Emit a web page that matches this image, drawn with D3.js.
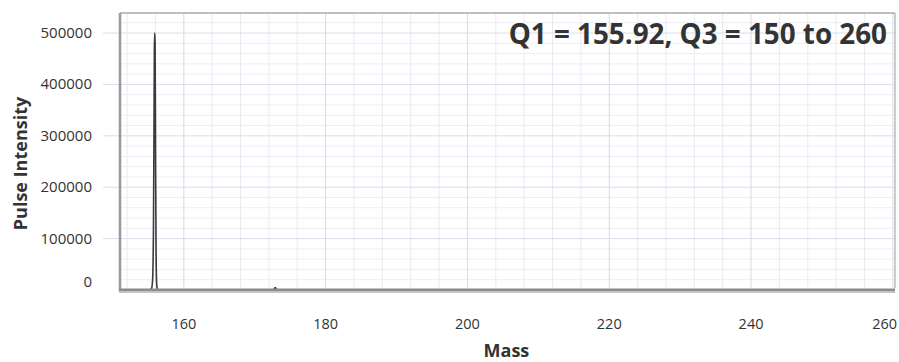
<!DOCTYPE html>
<html>
<head>
<meta charset="utf-8">
<script src="https://cdn.jsdelivr.net/npm/d3@7"></script>
<style>
  body { margin: 0; background: #fff; }
  text { font-family: "Open Sans", "Noto Sans", sans-serif; fill: #333; }
</style>
</head>
<body>
<div id="main"></div>
<script>
// spectrum trace
const mass      = [151, 155.2, 155.45, 155.6, 155.72, 155.8, 155.85, 155.9, 155.95, 156.0, 156.02, 156.08, 156.15, 156.25, 156.4, 172.6, 172.8, 172.9, 173.05, 173.2, 260.3];
const intensity = [0,   0,     3000,   20000, 120000, 330000, 470000, 500000, 480000, 335000, 250000, 90000, 20000, 3000, 0,     0,     3500,  5000,  2000,  0,     0];

const xTicks = [160, 180, 200, 220, 240, 260];
const yTicks = [0, 100000, 200000, 300000, 400000, 500000];
const title = "Q1 = 155.92, Q3 = 150 to 260";

let margin = {top: 13, right: 4, bottom: 74, left: 120};
let W = 899, H = 362;
let width = W - margin.left - margin.right;
let height = H - margin.top - margin.bottom;

let x = d3.scaleLinear()
	.domain([151, 260.3])
	.range([0, width]);

let y = d3.scaleLinear()
	.domain([0, 539000])
	.range([height + 2, 0]);

let svg = d3.select("#main")
	.append("svg")
		.attr("width", W)
		.attr("height", H)
	.append("g")
		.attr("transform", `translate(${margin.left}, ${margin.top})`);

// minor grid
svg.append("g")
	.selectAll("line")
	.data(d3.range(20000, 539000, 20000).filter(v => v % 100000 != 0))
	.enter().append("line")
		.attr("x1", 0).attr("x2", width)
		.attr("y1", d => y(d)).attr("y2", d => y(d))
		.style("stroke", "#eceef6");

svg.append("g")
	.selectAll("line")
	.data(d3.range(152, 261, 4).filter(v => v % 20 != 0))
	.enter().append("line")
		.attr("y1", 0).attr("y2", height)
		.attr("x1", d => x(d)).attr("x2", d => x(d))
		.style("stroke", "#e9ebf2");

// major grid (horizontal ones run out as ticks)
svg.append("g")
	.selectAll("line")
	.data(yTicks.filter(v => v > 0))
	.enter().append("line")
		.attr("x1", -17).attr("x2", width)
		.attr("y1", d => y(d)).attr("y2", d => y(d))
		.style("stroke", "#d9ddee");

svg.append("g")
	.selectAll("line")
	.data(xTicks)
	.enter().append("line")
		.attr("y1", 0).attr("y2", height)
		.attr("x1", d => x(d)).attr("x2", d => x(d))
		.style("stroke", "#d6dbe8");

// frame
svg.append("line").attr("x1", 0).attr("x2", width).attr("y1", 0).attr("y2", 0)
	.style("stroke", "#aaa").style("stroke-width", 1.5);
svg.append("line").attr("x1", width).attr("x2", width).attr("y1", 0).attr("y2", height)
	.style("stroke", "#bbb").style("stroke-width", 1.5);
svg.append("line").attr("x1", 0).attr("x2", 0).attr("y1", 0).attr("y2", height + 3)
	.style("stroke", "#999").style("stroke-width", 2.5);

// trace
let line = d3.line()
	.x((d, i) => x(mass[i]))
	.y(d => y(d))
	.curve(d3.curveMonotoneX);

svg.append("path")
	.datum(intensity)
	.attr("d", line)
	.style("fill", "none")
	.style("stroke", "#3a3a3a")
	.style("stroke-width", 1.6);

// bottom axis bar
svg.append("line").attr("x1", -1).attr("x2", width).attr("y1", height + 2).attr("y2", height + 2)
	.style("stroke", "#8c8c8c").style("stroke-width", 3);
svg.append("line").attr("x1", -1).attr("x2", width).attr("y1", height + 4.5).attr("y2", height + 4.5)
	.style("stroke", "#c4c4c4").style("stroke-width", 1);

// tick labels (last one pulled inside the window)
svg.append("g")
	.selectAll("text")
	.data(xTicks)
	.enter().append("text")
		.attr("x", (d, i) => i == xTicks.length - 1 ? width + 2 : x(d))
		.attr("y", height + 41)
		.attr("text-anchor", (d, i) => i == xTicks.length - 1 ? "end" : "middle")
		.style("font-size", "14.5px")
		.text(d => d);

svg.append("g")
	.selectAll("text")
	.data(yTicks)
	.enter().append("text")
		.attr("x", -28)
		.attr("y", d => d == 0 ? y(d) - 3 : y(d) + 5)
		.attr("text-anchor", "end")
		.style("font-size", "15px")
		.text(d => d);

// axis titles
svg.append("text")
	.attr("x", x(205.5))
	.attr("y", height + 69)
	.attr("text-anchor", "middle")
	.style("font-size", "18px")
	.style("font-weight", "bold")
	.text("Mass");

svg.append("text")
	.attr("transform", `translate(${-93}, ${height / 2 + 13}) rotate(-90)`)
	.attr("text-anchor", "middle")
	.style("font-size", "18px")
	.style("font-weight", "bold")
	.text("Pulse Intensity");

svg.append("text")
	.attr("x", width - 8)
	.attr("y", 31)
	.attr("text-anchor", "end")
	.style("font-size", "27.8px")
	.style("font-weight", "bold")
	.text(title);
</script>
</body>
</html>
